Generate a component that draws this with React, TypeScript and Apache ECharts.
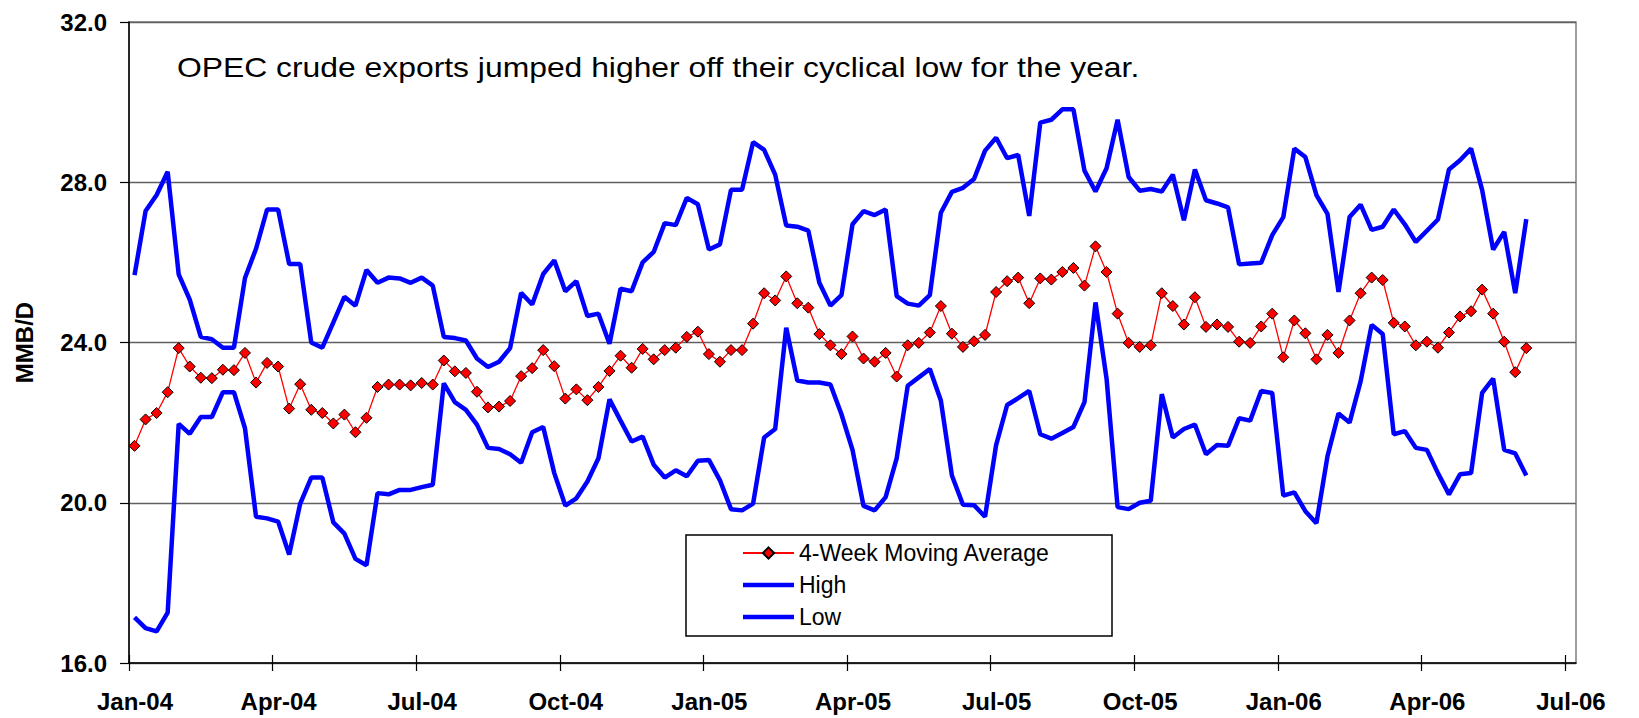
import React, { useEffect, useRef } from "react";
import * as echarts from "echarts";

const FONT = '"Liberation Sans", Arial, Helvetica, sans-serif';

// Quarterly tick labels; the category axis carries 13 weekly slots per quarter.
const tickLabels = ["Jan-04", "Apr-04", "Jul-04", "Oct-04", "Jan-05", "Apr-05", "Jul-05", "Oct-05", "Jan-06", "Apr-06", "Jul-06"];
const weeksPerTick = 13;
const totalSlots = 131;

const annotation = "OPEC crude exports jumped higher off their cyclical low for the year.";

// Weekly values, MMB/D, starting first week of Jan-04
const movingAvg = [
  21.42, 22.08, 22.24, 22.76, 23.86, 23.40, 23.12, 23.11, 23.32, 23.31,
  23.74, 23.00, 23.49, 23.40, 22.35, 22.96, 22.32, 22.24, 21.98, 22.20,
  21.76, 22.12, 22.89, 22.95, 22.95, 22.93, 22.99, 22.95, 23.55, 23.28,
  23.24, 22.77, 22.38, 22.40, 22.54, 23.16, 23.36, 23.81, 23.41, 22.60,
  22.83, 22.56, 22.89, 23.29, 23.67, 23.37, 23.84, 23.58, 23.81, 23.87,
  24.14, 24.27, 23.71, 23.52, 23.81, 23.81, 24.47, 25.23, 25.05, 25.65,
  24.98, 24.87, 24.21, 23.93, 23.71, 24.15, 23.60, 23.52, 23.74, 23.15,
  23.93, 23.99, 24.25, 24.91, 24.22, 23.89, 24.03, 24.19, 25.26, 25.53,
  25.62, 24.98, 25.60, 25.57, 25.76, 25.86, 25.42, 26.40, 25.76, 24.72,
  23.99, 23.89, 23.93, 25.23, 24.91, 24.45, 25.13, 24.39, 24.45, 24.39,
  24.02, 23.99, 24.40, 24.72, 23.63, 24.55, 24.23, 23.58, 24.19, 23.74,
  24.55, 25.23, 25.62, 25.56, 24.49, 24.40, 23.93, 24.02, 23.87, 24.25,
  24.65, 24.78, 25.32, 24.72, 24.02, 23.26, 23.86,
];

const high = [
  25.68, 27.28, 27.68, 28.26, 25.70, 25.07, 24.14, 24.08, 23.87, 23.87,
  25.61, 26.34, 27.32, 27.32, 25.96, 25.96, 24.00, 23.87, 24.50, 25.14,
  24.92, 25.81, 25.49, 25.62, 25.60, 25.49, 25.62, 25.42, 24.14, 24.11,
  24.05, 23.60, 23.39, 23.52, 23.86, 25.24, 24.95, 25.71, 26.05, 25.28,
  25.53, 24.66, 24.72, 23.97, 25.34, 25.28, 26.00, 26.26, 26.98, 26.93,
  27.61, 27.45, 26.32, 26.45, 27.81, 27.81, 29.00, 28.81, 28.19, 26.92,
  26.89, 26.79, 25.49, 24.92, 25.18, 26.95, 27.28, 27.18, 27.32, 25.16,
  24.97, 24.92, 25.18, 27.24, 27.76, 27.86, 28.08, 28.79, 29.11, 28.60,
  28.68, 27.16, 29.49, 29.56, 29.82, 29.82, 28.29, 27.77, 28.35, 29.56,
  28.13, 27.79, 27.83, 27.77, 28.19, 27.05, 28.32, 27.55, 27.47, 27.37,
  25.95, 25.97, 25.99, 26.68, 27.13, 28.84, 28.63, 27.68, 27.21, 25.26,
  27.13, 27.44, 26.81, 26.89, 27.32, 26.95, 26.51, 26.79, 27.07, 28.32,
  28.55, 28.84, 27.81, 26.32, 26.76, 25.23, 27.08,
];

const low = [
  17.14, 16.87, 16.79, 17.26, 21.97, 21.72, 22.14, 22.14, 22.76, 22.76,
  21.86, 19.65, 19.61, 19.53, 18.71, 19.98, 20.63, 20.63, 19.51, 19.23,
  18.60, 18.44, 20.24, 20.21, 20.32, 20.32, 20.39, 20.45, 22.98, 22.51,
  22.32, 21.95, 21.37, 21.34, 21.21, 21.00, 21.76, 21.89, 20.74, 19.93,
  20.11, 20.53, 21.11, 22.58, 22.05, 21.53, 21.65, 20.95, 20.63, 20.81,
  20.66, 21.05, 21.07, 20.56, 19.84, 19.81, 19.98, 21.63, 21.84, 24.37,
  23.05, 23.00, 23.00, 22.95, 22.21, 21.32, 19.92, 19.81, 20.14, 21.11,
  22.92, 23.13, 23.34, 22.55, 20.68, 19.95, 19.94, 19.65, 21.44, 22.44,
  22.61, 22.79, 21.71, 21.60, 21.74, 21.89, 22.51, 25.00, 23.10, 19.89,
  19.84, 20.00, 20.05, 22.71, 21.63, 21.84, 21.95, 21.21, 21.44, 21.42,
  22.11, 22.05, 22.79, 22.74, 20.18, 20.26, 19.79, 19.49, 21.16, 22.23,
  22.00, 23.03, 24.44, 24.21, 21.71, 21.79, 21.37, 21.32, 20.74, 20.21,
  20.71, 20.74, 22.74, 23.10, 21.32, 21.23, 20.68,
];

export default function App() {
  const ref = useRef<HTMLDivElement>(null);

  useEffect(() => {
    if (!ref.current) return;
    const chart = echarts.init(ref.current, null, { renderer: "svg" });
    // each weekly value sits in the middle of its category slot
    const toPoints = (arr: number[]) => arr.map((v, i) => [i + 0.5, v]);
    const tickValues = tickLabels.map((_, k) => k * weeksPerTick);
    const thickLineIcon = "path://M0,0 L51,0 L51,4.5 L0,4.5 Z";

    chart.setOption({
      animation: false,
      backgroundColor: "#ffffff",
      textStyle: { fontFamily: FONT },
      grid: {
        left: 129,
        top: 22,
        right: 63,
        bottom: 55,
        show: true,
        borderColor: "#808080",
        borderWidth: 1.5,
        backgroundColor: "transparent",
        outerBoundsMode: "none",
      },
      xAxis: [
        {
          type: "value",
          min: 0,
          max: totalSlots,
          splitLine: { show: false },
          axisLine: { show: true, lineStyle: { color: "#000", width: 1.5 } },
          axisTick: {
            show: true,
            inside: false,
            length: 8,
            lineStyle: { color: "#000", width: 1.2 },
            customValues: tickValues,
          },
          axisLabel: {
            customValues: tickValues,
            formatter: (v: number) => tickLabels[Math.round(v / weeksPerTick)] ?? "",
            fontSize: 24,
            fontWeight: "bold",
            fontFamily: FONT,
            color: "#000",
            margin: 26,
            padding: [0, 0, 0, 12],
          },
        },
        {
          type: "value",
          min: 0,
          max: totalSlots,
          position: "bottom",
          splitLine: { show: false },
          axisLine: { show: false },
          axisLabel: { show: false },
          axisTick: {
            show: true,
            inside: true,
            length: 8,
            lineStyle: { color: "#000", width: 1.2 },
            customValues: tickValues,
          },
        },
      ],
      yAxis: {
        type: "value",
        min: 16,
        max: 32,
        interval: 4,
        name: "MMB/D",
        nameLocation: "middle",
        nameRotate: 90,
        nameGap: 93,
        nameTextStyle: { fontSize: 24, fontWeight: "bold", color: "#000", fontFamily: FONT },
        axisLine: { show: true, lineStyle: { color: "#000", width: 1.5 } },
        axisTick: { show: true, length: 9, lineStyle: { color: "#000", width: 1.2 } },
        axisLabel: {
          formatter: (v: number) => v.toFixed(1),
          fontSize: 24,
          fontWeight: "bold",
          fontFamily: FONT,
          color: "#000",
          margin: 22,
        },
        splitLine: { show: true, lineStyle: { color: "#606060", width: 1.3 } },
      },
      legend: {
        data: [
          { name: "4-Week Moving Average" },
          { name: "High", icon: thickLineIcon },
          { name: "Low", icon: thickLineIcon },
        ],
        orient: "vertical",
        left: 686,
        top: 535,
        padding: [6, 62, 7, 56],
        itemGap: 8,
        itemWidth: 51,
        itemHeight: 14,
        backgroundColor: "#fff",
        borderColor: "#000",
        borderWidth: 1.5,
        borderRadius: 0,
        textStyle: { fontSize: 23, color: "#000", fontFamily: FONT, lineHeight: 24 },
      },
      graphic: [
        {
          type: "text",
          x: 177,
          y: 67,
          scaleX: 1.18,
          style: {
            text: annotation,
            fontSize: 27,
            fontFamily: FONT,
            fill: "#000",
            align: "left",
            verticalAlign: "middle",
          },
        },
      ],
      series: [
        {
          name: "High",
          type: "line",
          data: toPoints(high),
          symbol: "none",
          showSymbol: false,
          lineStyle: { color: "#0000FF", width: 4.5 },
          itemStyle: { color: "#0000FF" },
          z: 2,
        },
        {
          name: "Low",
          type: "line",
          data: toPoints(low),
          symbol: "none",
          showSymbol: false,
          lineStyle: { color: "#0000FF", width: 4.5 },
          itemStyle: { color: "#0000FF" },
          z: 2,
        },
        {
          name: "4-Week Moving Average",
          type: "line",
          data: toPoints(movingAvg),
          symbol: "diamond",
          symbolSize: 11,
          lineStyle: { color: "#FF0000", width: 1.3 },
          itemStyle: { color: "#FF0000", borderColor: "#000", borderWidth: 1 },
          z: 3,
        },
      ],
    });

    return () => chart.dispose();
  }, []);

  return (
    <div
      ref={ref}
      style={{ position: "fixed", left: 0, top: 0, width: 1639, height: 718, background: "#fff" }}
    />
  );
}
